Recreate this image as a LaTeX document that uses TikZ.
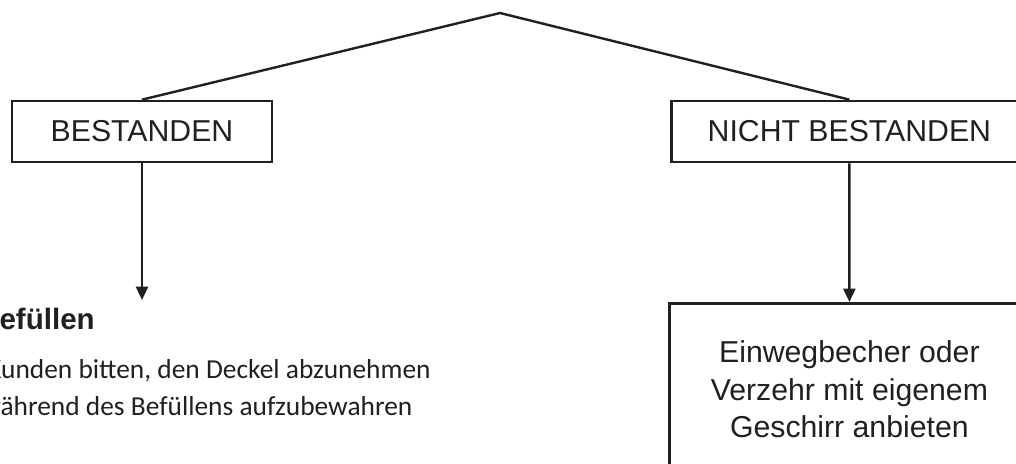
\documentclass[tikz,border=0pt]{standalone}
\usepackage{fontspec}
\setmainfont{Liberation Sans}
\newfontfamily\bodyfont{Carlito}
\usetikzlibrary{positioning,arrows.meta}
\definecolor{ink}{RGB}{35,31,32}

\begin{document}
\begin{tikzpicture}[
    x=0.025cm, y=-0.025cm,
    every node/.style={text=ink},
    box/.style={rectangle, draw=ink, line width=1.9pt, minimum height=1.525cm, inner sep=0pt,
        font=\fontsize{21.5}{26.6}\selectfont},
    arrow/.style={-{Triangle[length=9.5pt,width=8.5pt]}, draw=ink, line width=1.7pt},
    branch/.style={draw=ink, line width=1.7pt}
]
    \useasboundingbox (0,0) rectangle (1016,463);
    \clip (0,0) rectangle (1016,463);

    \coordinate (apex) at (500,13);
    \node[box, minimum width=6.5cm] (bestanden) at (142,131.5) {BESTANDEN};
    \node[box, minimum width=8.9cm, anchor=west] (nicht) at (670,131.5) {NICHT BESTANDEN};
    \node[box, minimum width=9cm, minimum height=4.3cm, anchor=north west, align=center] (angebot) at (668,302)
        {Einwegbecher oder\\Verzehr mit eigenem\\Geschirr anbieten};
    \coordinate (befuellen) at (bestanden.south |- 0,300);

    % cut-off text on the left
    \node[anchor=base east, inner sep=0pt, font=\fontsize{21}{25}\selectfont\bfseries] (titel) at (95,329) {Befüllen};
    \node[anchor=base west, inner sep=0pt, align=left, font=\bodyfont\fontsize{19.5}{26.2}\selectfont] (hinweis) at (-13,415)
        {Kunden bitten, den Deckel abzunehmen\\\hspace*{-0.15cm}während des Befüllens aufzubewahren};

    \draw[branch] (bestanden.north) -- (apex) -- (nicht.north);
    \draw[arrow] (bestanden) -- (befuellen);
    \draw[arrow] (nicht) -- (angebot);
\end{tikzpicture}
\end{document}
